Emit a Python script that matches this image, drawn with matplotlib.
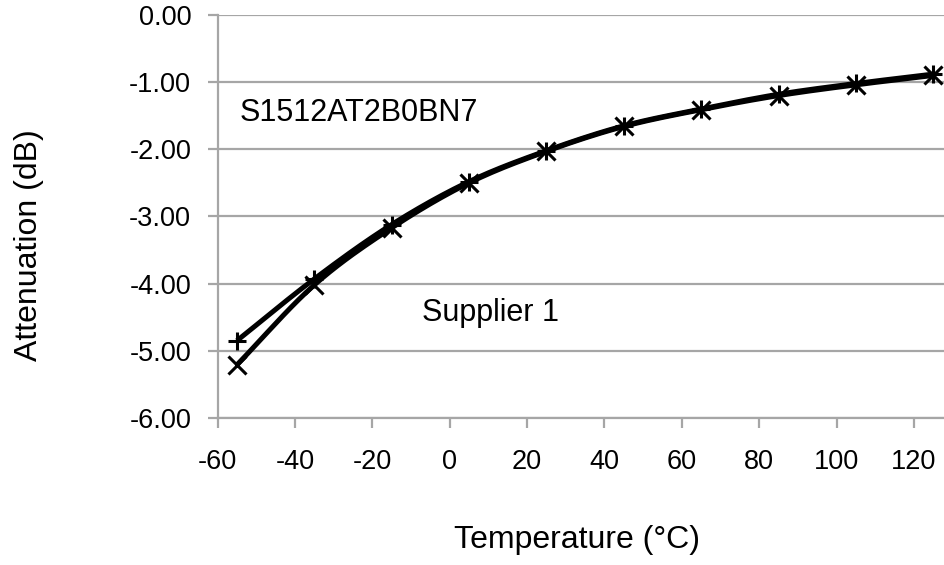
import numpy as np
import matplotlib
matplotlib.use("Agg")
import matplotlib.pyplot as plt

temps = [-55, -35, -15, 5, 25, 45, 65, 85, 105, 125]
series_plus = [-4.85, -3.93, -3.12, -2.48, -2.02, -1.65, -1.40, -1.18, -1.02, -0.88]
series_x = [-5.21, -4.02, -3.17, -2.50, -2.03, -1.66, -1.41, -1.20, -1.04, -0.90]
xticks = [-60, -40, -20, 0, 20, 40, 60, 80, 100, 120]
yticks = [0, -1, -2, -3, -4, -5, -6]

plt.rcParams['font.family'] = ['Liberation Sans', 'DejaVu Sans']


def smooth(x, y, n=20):
    # Catmull-Rom rendering of the line (like Excel smoothed lines)
    x = np.asarray(x, float); y = np.asarray(y, float)
    P = np.column_stack([x, y])
    P = np.vstack([2 * P[0] - P[1], P, 2 * P[-1] - P[-2]])
    out = []
    for i in range(1, len(P) - 2):
        p0, p1, p2, p3 = P[i - 1], P[i], P[i + 1], P[i + 2]
        t = np.linspace(0, 1, n, endpoint=False)[:, None]
        seg = 0.5 * ((2 * p1) + (-p0 + p2) * t + (2 * p0 - 5 * p1 + 4 * p2 - p3) * t ** 2
                     + (-p0 + 3 * p1 - 3 * p2 + p3) * t ** 3)
        out.append(seg)
    out.append(P[-2][None, :])
    out = np.vstack(out)
    return out[:, 0], out[:, 1]


fig = plt.figure(figsize=(9.45, 5.65), dpi=100)
ax = fig.add_axes([0.2302, 0.2602, 0.7698, 0.7133])

grid_c = '#a6a6a6'
for yv in yticks:
    ax.axhline(yv, color=grid_c, lw=1.6, zorder=1)

for ys, mk in [(series_plus, '+'), (series_x, 'x')]:
    sx, sy = smooth(temps, ys)
    ax.plot(sx, sy, color='black', lw=3.6, zorder=3, solid_capstyle='butt')
    ax.plot(temps, ys, linestyle='none', marker=mk, color='black', markersize=13,
            markeredgewidth=2.2, zorder=4, clip_on=False)

ax.set_xlim(-60, 128)
ax.set_ylim(-6, 0)
ax.set_xticks(xticks)
ax.set_yticks(yticks)
ax.set_xticklabels([str(v) for v in xticks])
ax.set_yticklabels(['%.2f' % v for v in yticks])
for s in ['top', 'right']:
    ax.spines[s].set_visible(False)
for s in ['left', 'bottom']:
    ax.spines[s].set_color(grid_c)
    ax.spines[s].set_linewidth(1.6)
ax.tick_params(axis='both', colors=grid_c, length=7, width=1.6, labelsize=19.5,
               labelcolor='black')
ax.tick_params(axis='x', pad=15)
ax.tick_params(axis='y', pad=12)

ax.text(-54.2, -1.58, 'S1512AT2B0BN7', fontsize=22, va='baseline', ha='left')
ax.text(-7.1, -4.56, 'Supplier 1', fontsize=22, va='baseline', ha='left')

fig.text(577 / 945, 1 - 540 / 565, 'Temperature (°C)', fontsize=23, ha='center', va='center')
fig.text(29 / 945, 1 - 245 / 565, 'Attenuation (dB)', fontsize=23, ha='center', va='center',
         rotation=90)

fig.savefig('out.png', dpi=100)
